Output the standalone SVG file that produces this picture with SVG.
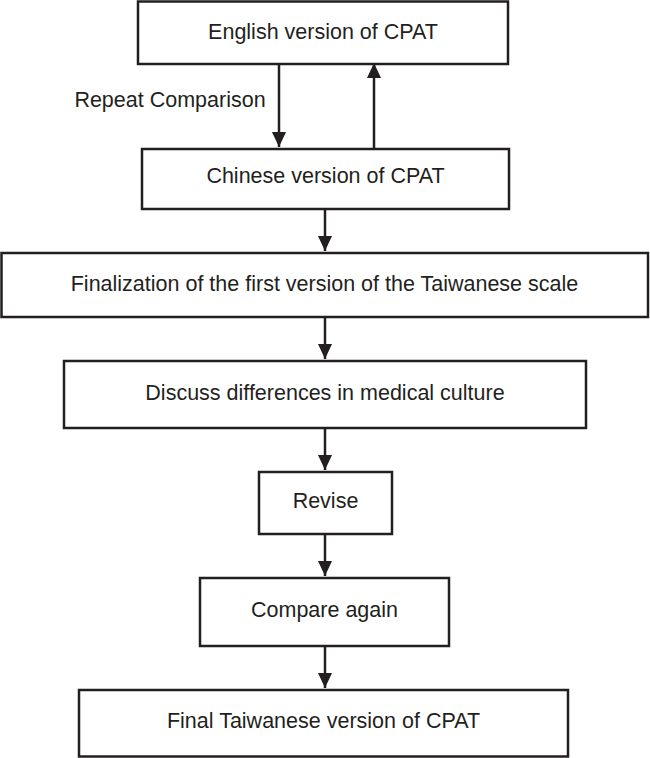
<svg xmlns="http://www.w3.org/2000/svg" width="650" height="758" viewBox="0 0 650 758">
<defs>
<style>
.box{fill:#fff;stroke:#231f20;stroke-width:2.5}
.lbl{font-family:"Liberation Sans",Arial,sans-serif;font-size:21.5px;fill:#231f20;text-anchor:middle}
.edge{stroke:#231f20;stroke-width:2.5;fill:none;marker-end:url(#ah)}
</style>
<marker id="ah" markerUnits="userSpaceOnUse" markerWidth="16" markerHeight="16" viewBox="0 0 16 16" refX="15" refY="8" orient="auto">
<path d="M0,1 L15,8 L0,15 Z" fill="#231f20"/>
</marker>
</defs>
<rect width="650" height="758" fill="#fff"/>
<g id="connectors">
<line class="edge" x1="279" y1="64" x2="279" y2="147"/>
<line class="edge" x1="374" y1="149" x2="374" y2="63"/>
<line class="edge" x1="325" y1="209" x2="325" y2="251"/>
<line class="edge" x1="325" y1="317" x2="325" y2="359"/>
<line class="edge" x1="325" y1="428" x2="325" y2="470"/>
<line class="edge" x1="325" y1="534" x2="325" y2="576"/>
<line class="edge" x1="325" y1="646" x2="325" y2="688"/>
<text class="lbl" x="170" y="107">Repeat Comparison</text>
</g>
<g id="english">
<rect class="box" x="138" y="1.5" width="370" height="62.5"/>
<text class="lbl" x="323" y="39">English version of CPAT</text>
</g>
<g id="chinese">
<rect class="box" x="142" y="149" width="367" height="60"/>
<text class="lbl" x="325.5" y="183">Chinese version of CPAT</text>
</g>
<g id="finalization">
<rect class="box" x="1.5" y="253" width="646.5" height="64"/>
<text class="lbl" x="324.5" y="291">Finalization of the first version of the Taiwanese scale</text>
</g>
<g id="discuss">
<rect class="box" x="64" y="361" width="522" height="67"/>
<text class="lbl" x="325" y="400">Discuss differences in medical culture</text>
</g>
<g id="revise">
<rect class="box" x="259" y="472" width="133" height="62"/>
<text class="lbl" x="325.5" y="508">Revise</text>
</g>
<g id="compare">
<rect class="box" x="200" y="578" width="249" height="68"/>
<text class="lbl" x="324.5" y="617">Compare again</text>
</g>
<g id="final">
<rect class="box" x="79" y="690" width="489" height="66.5"/>
<text class="lbl" x="323.5" y="728">Final Taiwanese version of CPAT</text>
</g>
</svg>
